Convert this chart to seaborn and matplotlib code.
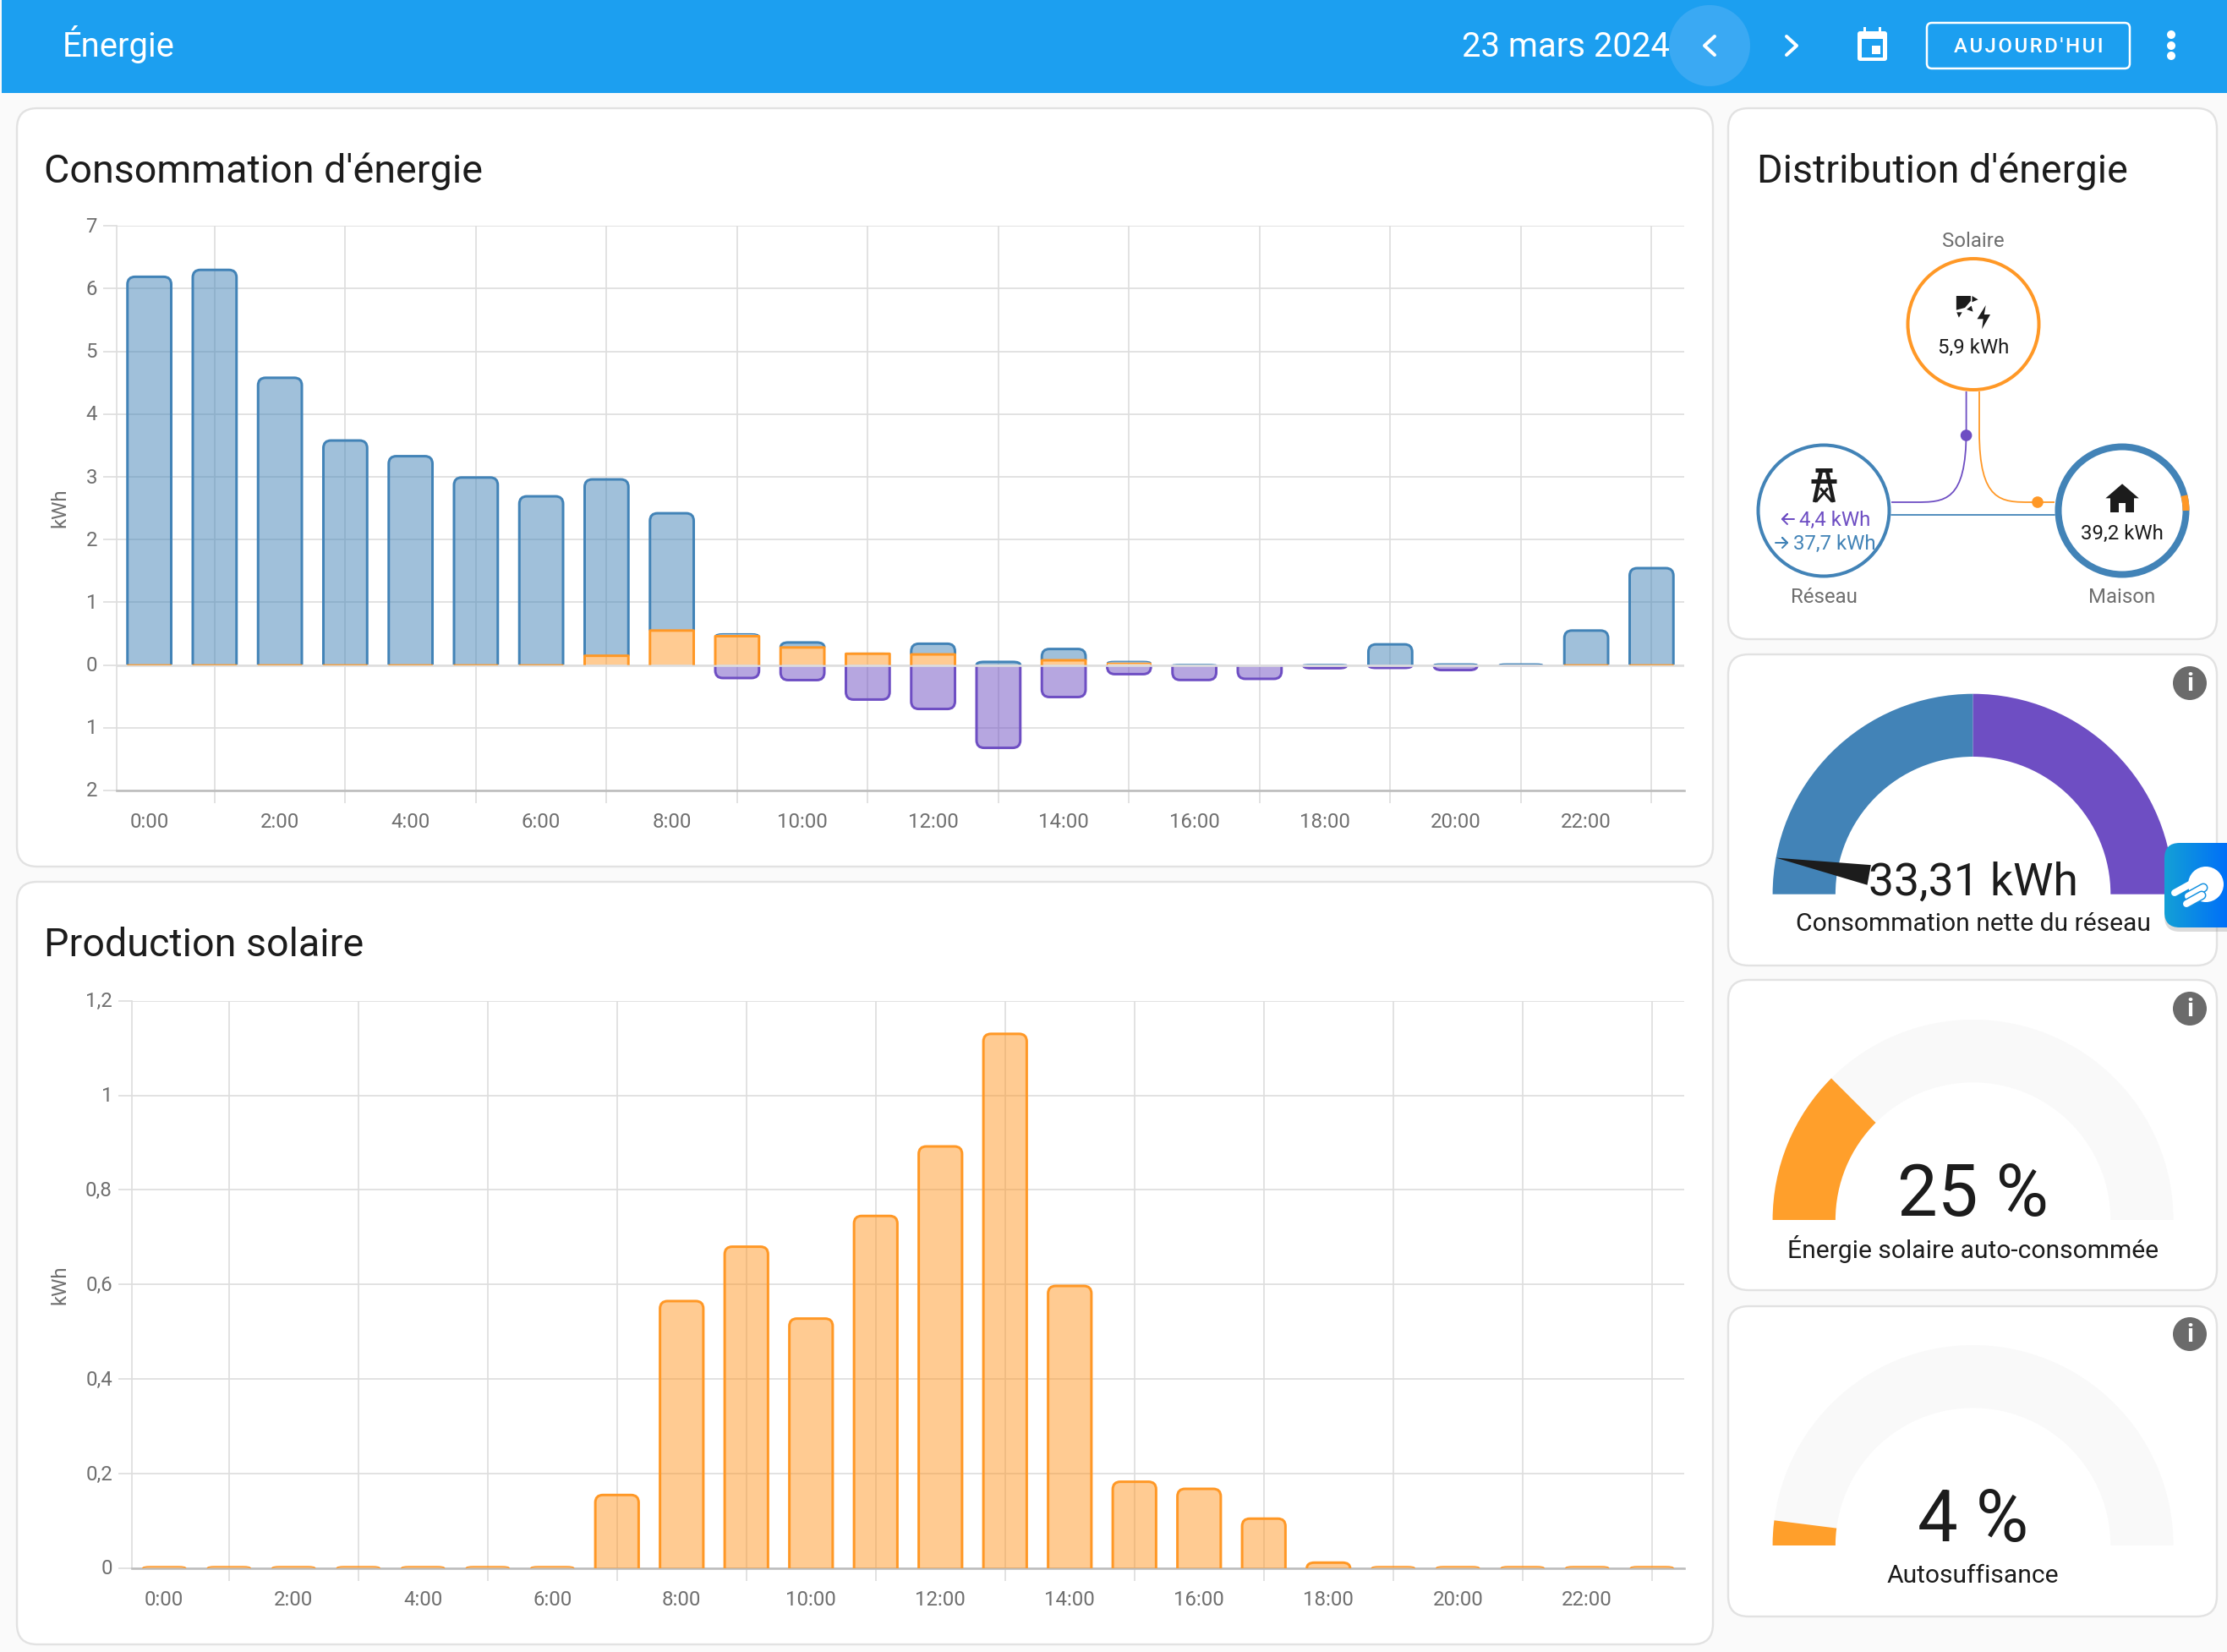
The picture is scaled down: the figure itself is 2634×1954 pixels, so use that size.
"""Home Assistant energy dashboard redrawn with seaborn bars and matplotlib patches."""

import numpy as np
import pandas as pd
import matplotlib
matplotlib.use("Agg")
import matplotlib.pyplot as plt
from matplotlib.patches import Circle, FancyBboxPatch, PathPatch, Polygon, Rectangle, Wedge, Arc
from matplotlib.path import Path
from matplotlib.transforms import ScaledTranslation
import seaborn as sns

# ── Data ──────────────────────────────────────────────────────────────────────
hours = [f"{h}:00" for h in range(24)]

# consumption chart, kWh per hour
solar_used = [0.005, 0.005, 0.005, 0.005, 0.005, 0.005, 0.005, 0.148, 0.55, 0.46, 0.28, 0.18,
              0.17, 0.0, 0.076, 0.03, 0.0, 0.0, 0.0, 0.0, 0.0, 0.0, 0.005, 0.005]
grid_used = [6.185, 6.295, 4.575, 3.575, 3.325, 2.985, 2.685, 2.812, 1.87, 0.04, 0.08, 0.01,
             0.17, 0.05, 0.18, 0.03, 0.01, 0.0, 0.01, 0.33, 0.02, 0.02, 0.545, 1.54]
grid_returned = [0.0, 0.0, 0.0, 0.0, 0.0, 0.0, 0.0, 0.0, 0.0, 0.207, 0.24, 0.55,
                 0.70, 1.32, 0.51, 0.145, 0.238, 0.22, 0.05, 0.045, 0.08, 0.015, 0.01, 0.0]

# solar production chart, kWh per hour
solar_prod = [0.004, 0.004, 0.004, 0.004, 0.004, 0.004, 0.004, 0.155, 0.565, 0.68, 0.528, 0.745,
              0.892, 1.13, 0.597, 0.183, 0.168, 0.105, 0.012, 0.004, 0.004, 0.004, 0.004, 0.004]

cons_ticks = [-2, -1, 0, 1, 2, 3, 4, 5, 6, 7]
cons_tick_labels = ["2", "1", "0", "1", "2", "3", "4", "5", "6", "7"]
prod_ticks = [0, 0.2, 0.4, 0.6, 0.8, 1.0, 1.2]
prod_tick_labels = ["0", "0,2", "0,4", "0,6", "0,8", "1", "1,2"]

net_grid_kwh = 33.31
net_grid_range = 37.7
self_consumed_pct = 25
self_sufficiency_pct = 4
home_solar_share = 0.038

# ── Theme ─────────────────────────────────────────────────────────────────────
W, H = 2634, 1954
BLUE = "#4283b7"
ORANGE = "#ff9826"
GAUGE_ORANGE = "#ff9f2b"
PURPLE = "#6e4ec3"
HEADER = "#1c9ff0"
BG = "#fafafa"
CARD_EDGE = "#e2e2e2"
GRID = "#dedede"
AXIS = "#bdbdbd"
MUTED = "#6f6f6f"
INK = "#1c1c1c"
TRACK = "#f9f9f9"
TITLE_PX = 46.7
TICK_PX = 24

sns.set_theme(style="white")
plt.rcParams["font.family"] = ["Roboto", "DejaVu Sans"]

fig = plt.figure(figsize=(W / 100, H / 100), dpi=100, facecolor=BG)

bg = fig.add_axes([0, 0, 1, 1], zorder=0)
bg.set_xlim(0, W)
bg.set_ylim(H, 0)
bg.axis("off")


def px(v):
    """Pixels to points at this figure's dpi."""
    return v * 0.72


# ── Dashboard furniture ───────────────────────────────────────────────────────
def card(x0, y0, x1, y1, r=24):
    bg.add_patch(FancyBboxPatch((x0 + r, y0 + r), x1 - x0 - 2 * r, y1 - y0 - 2 * r,
                                boxstyle=f"round,pad={r},rounding_size={r}",
                                fc="white", ec=CARD_EDGE, lw=px(2.4)))


def info_icon(cx, cy):
    bg.add_patch(Circle((cx, cy), 20, fc="#6b6b6b", ec="none"))
    bg.text(cx, cy + 1, "i", color="white", fontsize=px(30), fontweight="bold",
            ha="center", va="center")


bg.add_patch(Rectangle((2, 0), W, 110, fc=HEADER, ec="none"))
bg.text(74, 67, "Énergie", color="white", fontsize=px(40), ha="left", va="baseline")
bg.text(1975, 67, "23 mars 2024", color="white", fontsize=px(40), ha="right", va="baseline")
bg.add_patch(Circle((2022, 54), 48, fc="#3aa9f3", ec="none"))
bg.plot([2028, 2016, 2028], [43, 54, 65], color="white", lw=px(4), solid_capstyle="round")
bg.plot([2113, 2125, 2113], [43, 54, 65], color="white", lw=px(4), solid_capstyle="round")
# calendar icon
bg.add_patch(FancyBboxPatch((2198, 38), 33, 33, boxstyle="round,pad=1,rounding_size=3",
                            fc="white", ec="none"))
bg.add_patch(Rectangle((2202, 46), 25, 22, fc=HEADER, ec="none"))
bg.add_patch(Rectangle((2214, 54), 10, 10, fc="white", ec="none"))
bg.add_patch(Rectangle((2204, 32), 3, 8, fc="white", ec="none"))
bg.add_patch(Rectangle((2222, 32), 3, 8, fc="white", ec="none"))
# today button
bg.add_patch(FancyBboxPatch((2285, 33), 228, 42, boxstyle="round,pad=6,rounding_size=6",
                            fc="none", ec="white", lw=px(2.5)))
bg.text(2399, 62, "\u200a".join("AUJOURD'HUI"), color="white", fontsize=px(24), fontweight="medium",
        ha="center", va="baseline")
for dot_y in [41, 54, 66]:
    bg.add_patch(Circle((2568, dot_y), 5, fc="white", ec="none"))

card(20, 128, 2026, 1025)
card(20, 1043, 2026, 1945)
card(2044, 128, 2622, 756)
card(2044, 774, 2622, 1142)
card(2044, 1159, 2622, 1526)
card(2044, 1545, 2622, 1912)

bg.text(52, 216, "Consommation d'énergie", color=INK, fontsize=px(TITLE_PX), va="baseline")
bg.text(52, 1131, "Production solaire", color=INK, fontsize=px(TITLE_PX), va="baseline")
bg.text(2078, 216, "Distribution d'énergie", color=INK, fontsize=px(TITLE_PX), va="baseline")


# ── Bar charts ────────────────────────────────────────────────────────────────
def rounded_path(x0, x1, base, tip, rx, ry):
    """Open outline of a bar, with the two corners at its tip rounded."""
    sign = 1 if tip > base else -1
    ry = min(ry, abs(tip - base))
    verts = [(x0, base), (x0, tip - sign * ry), (x0, tip), (x0 + rx, tip),
             (x1 - rx, tip), (x1, tip), (x1, tip - sign * ry), (x1, base)]
    codes = [Path.MOVETO, Path.LINETO, Path.CURVE3, Path.CURVE3,
             Path.LINETO, Path.CURVE3, Path.CURVE3, Path.LINETO]
    return Path(verts, codes)


def stacked(ax, values, bottoms, color, ppu, slot, rounded=True, top=4):
    """Draw one series through seaborn, then restyle its rectangles as dashboard bars."""
    df = pd.DataFrame({"hour": hours, "kwh": values})
    sns.barplot(data=df, x="hour", y="kwh", order=hours, bottom=bottoms, ax=ax, color=color,
                saturation=1, width=0.67, zorder=3)
    for bar, val, base in zip(ax.containers[-1], values, bottoms):
        bar.set_visible(False)
        if val == 0:
            continue
        x0, x1 = bar.get_x(), bar.get_x() + bar.get_width()
        r = 9 if rounded else 0
        path = rounded_path(x0, x1, base, base + val, r / slot, r / ppu)
        ax.add_patch(PathPatch(path, fc=color, ec="none", alpha=0.5, zorder=3))
        lw = px(3) if abs(val) * ppu > 3 else px(1.2)
        ax.add_patch(PathPatch(path, fc="none", ec=color, lw=lw, zorder=top, clip_on=False,
                               capstyle="butt", joinstyle="round"))


def chart_axes(x0, y0, x1, y1):
    ax = fig.add_axes([x0 / W, 1 - y1 / H, (x1 - x0) / W, (y1 - y0) / H], zorder=2)
    ax.patch.set_alpha(0)
    return ax


def style_chart(ax, ylim, ticks, labels, ylabel_pos):
    ax.set_xlim(-0.5, 23.5)
    ax.set_ylim(*ylim)
    ax.set_xlabel("")
    ax.set_ylabel("")
    ax.set_xticks(range(0, 24, 2), hours[::2])
    ax.set_xticks(range(1, 24, 2), minor=True)
    ax.set_yticks(ticks, labels)
    ax.tick_params(axis="x", which="major", length=0, pad=px(26), labelsize=px(TICK_PX), labelcolor=MUTED)
    ax.tick_params(axis="x", which="minor", length=px(15), width=px(1.7), color=GRID, bottom=True)
    ax.tick_params(axis="y", length=px(16), width=px(1.7), color=GRID, left=True, pad=px(7),
                   labelsize=px(TICK_PX), labelcolor=MUTED)
    nudge = ScaledTranslation(0, 1.5 / 100, fig.dpi_scale_trans)
    for label in ax.get_yticklabels():
        label.set_transform(label.get_transform() + nudge)
    ax.grid(True, axis="y", which="major", color=GRID, lw=px(1.7), zorder=1)
    ax.grid(True, axis="x", which="minor", color=GRID, lw=px(1.7), zorder=1)
    ax.grid(False, axis="x", which="major")
    ax.set_axisbelow(True)
    for side in ["top", "right"]:
        ax.spines[side].set_visible(False)
    ax.spines["left"].set_color(GRID)
    ax.spines["left"].set_linewidth(px(1.7))
    ax.spines["bottom"].set_color(AXIS)
    ax.spines["bottom"].set_linewidth(px(2.6))
    bg.text(ylabel_pos[0], ylabel_pos[1], "kWh", color=MUTED, fontsize=px(TICK_PX), rotation=90,
            ha="center", va="center")


zeros = [0.0] * 24

ax_cons = chart_axes(138, 267.3, 1992, 935)
ppu_cons = 74.2
slot_cons = (1992 - 138) / 24
stacked(ax_cons, grid_used, solar_used, BLUE, ppu_cons, slot_cons)
stacked(ax_cons, [-v for v in grid_returned], zeros, PURPLE, ppu_cons, slot_cons)
ax_cons.axhline(0, color=GRID, lw=px(2.6), zorder=5)
stacked(ax_cons, solar_used, zeros, ORANGE, ppu_cons, slot_cons, rounded=False, top=6)
style_chart(ax_cons, (-2, 7), cons_ticks, cons_tick_labels, (71, 601))

ax_prod = chart_axes(156, 1183.7, 1992, 1855)
stacked(ax_prod, solar_prod, zeros, ORANGE, 559.4, (1992 - 156) / 24)
style_chart(ax_prod, (0, 1.2), prod_ticks, prod_tick_labels, (71, 1520))


# ── Energy distribution card ──────────────────────────────────────────────────
SOLAR_C = (2334, 383.5)
GRID_C = (2157, 604)
HOME_C = (2510, 604)
NODE_R = 77.5


def zoomed(xz, yz):
    """Coordinates measured on the distribution card crop, in figure pixels."""
    return 2040 + xz / 2.64, 250 + yz / 3


bg.add_patch(Circle(SOLAR_C, NODE_R, fc="white", ec=ORANGE, lw=px(4)))
bg.add_patch(Circle(GRID_C, NODE_R, fc="white", ec=BLUE, lw=px(4)))
bg.add_patch(Circle(HOME_C, NODE_R - 2, fc="white", ec=BLUE, lw=px(8)))
home_arc = home_solar_share * 360
bg.add_patch(Arc(HOME_C, 2 * (NODE_R - 2), 2 * (NODE_R - 2), theta1=-home_arc, theta2=0,
                 color=ORANGE, lw=px(8), capstyle="butt"))

flow_left = Path([(2325.6, 463), (2325.6, 510), (2325.6, 594), (2300, 594), (2265, 594), (2237, 594)],
                 [Path.MOVETO, Path.LINETO, Path.CURVE4, Path.CURVE4, Path.CURVE4, Path.LINETO])
flow_right = Path([(2341, 463), (2341, 510), (2341, 594), (2367, 594), (2402, 594), (2430, 594)],
                  [Path.MOVETO, Path.LINETO, Path.CURVE4, Path.CURVE4, Path.CURVE4, Path.LINETO])
bg.add_patch(PathPatch(flow_left, fc="none", ec=PURPLE, lw=px(1.8)))
bg.add_patch(PathPatch(flow_right, fc="none", ec=ORANGE, lw=px(1.8)))
bg.plot([2237, 2430], [609.3, 609.3], color=BLUE, lw=px(1.8))
bg.add_patch(Circle((2325.6, 515), 6.8, fc=PURPLE, ec="none"))
bg.add_patch(Circle((2410, 594), 6.8, fc=ORANGE, ec="none"))

for label, x, y in [("Solaire", 2334, 292), ("Réseau", 2157, 713), ("Maison", 2510, 713)]:
    bg.text(x, y, label, color=MUTED, fontsize=px(24), ha="center", va="baseline")
bg.text(2334, 418, "5,9 kWh", color=INK, fontsize=px(24), ha="center", va="baseline")
bg.text(2510, 638, "39,2 kWh", color=INK, fontsize=px(24), ha="center", va="baseline")
bg.text(2128, 622, "4,4 kWh", color=PURPLE, fontsize=px(24), ha="left", va="baseline")
bg.text(2121, 650, "37,7 kWh", color=BLUE, fontsize=px(24), ha="left", va="baseline")
# small arrows beside the grid figures
bg.plot([2122, 2108, 2114, 2108, 2114], [614, 614, 608, 614, 620], color=PURPLE, lw=px(2))
bg.plot([2100, 2114, 2108, 2114, 2108], [642, 642, 636, 642, 648], color=BLUE, lw=px(2))

# solar icon
sun = [(723, 300), (768, 300), (768, 318), (750, 342), (723, 350)]
bolt = [(815, 333), (788, 382), (807, 382), (803, 418), (829, 366), (810, 366)]
for shape in [sun, bolt, [(772, 300), (791, 313), (772, 322)], [(755, 348), (775, 356), (770, 335)],
              [(724, 358), (741, 358), (731, 377)]]:
    bg.add_patch(Polygon([zoomed(*p) for p in shape], fc=INK, ec="none"))
# pylon icon
for seg, width in [([(282, 918), (336, 918)], 5), ([(300, 925), (280, 1032)], 4.5), ([(320, 925), (340, 1032)], 4.5),
                   ([(270, 958), (348, 958)], 5), ([(298, 982), (335, 1030)], 3), ([(322, 982), (285, 1030)], 3)]:
    xs, ys = zip(*[zoomed(*p) for p in seg])
    bg.plot(xs, ys, color=INK, lw=px(width), solid_capstyle="butt")
# home icon
bg.add_patch(Polygon([zoomed(*p) for p in [(1241, 967), (1293, 1018), (1189, 1018)]], fc=INK, ec="none"))
bg.add_patch(Polygon([zoomed(*p) for p in [(1205, 1015), (1278, 1015), (1278, 1068), (1252, 1068),
                                           (1252, 1035), (1230, 1035), (1230, 1068), (1205, 1068)]],
                     fc=INK, ec="none"))


# ── Gauges ────────────────────────────────────────────────────────────────────
R_OUT, R_IN = 237.0, 162.7
CX = 2333.6


def gauge_band(cy, frac0, frac1, color):
    bg.add_patch(Wedge((CX, cy), R_OUT, 180 + 180 * frac0, 180 + 180 * frac1,
                       width=R_OUT - R_IN, fc=color, ec="none"))


# net grid consumption
GY1 = 1057.7
gauge_band(GY1, 0, 0.5, BLUE)
gauge_band(GY1, 0.5, 1, PURPLE)
needle = np.pi * (1 - (net_grid_range - net_grid_kwh) / (2 * net_grid_range))
nx, ny = np.cos(needle), -np.sin(needle)
bg.add_patch(Polygon([(CX + R_OUT * nx, GY1 + R_OUT * ny),
                      (CX + 125 * nx + 12 * ny, GY1 + 125 * ny - 12 * nx),
                      (CX + 125 * nx - 12 * ny, GY1 + 125 * ny + 12 * nx)], fc=INK, ec="none"))
bg.text(CX, 1059, f"{net_grid_kwh:.2f} kWh".replace(".", ","), color=INK, fontsize=px(53.5),
        ha="center", va="baseline")
bg.text(CX, 1101, "Consommation nette du réseau", color=INK, fontsize=px(30), ha="center", va="baseline")
info_icon(2590, 808)

# self-consumed solar
GY2 = 1443
gauge_band(GY2, 0, 1, TRACK)
gauge_band(GY2, 0, self_consumed_pct / 100, GAUGE_ORANGE)
bg.text(CX, 1438, f"{self_consumed_pct} %", color=INK, fontsize=px(85), ha="center", va="baseline")
bg.text(CX, 1488, "Énergie solaire auto-consommée", color=INK, fontsize=px(30), ha="center", va="baseline")
info_icon(2590, 1193)

# self sufficiency
GY3 = 1828
gauge_band(GY3, 0, 1, TRACK)
gauge_band(GY3, 0, self_sufficiency_pct / 100, GAUGE_ORANGE)
bg.text(CX, 1823, f"{self_sufficiency_pct} %", color=INK, fontsize=px(85), ha="center", va="baseline")
bg.text(CX, 1872, "Autosuffisance", color=INK, fontsize=px(30), ha="center", va="baseline")
info_icon(2590, 1578)

# floating helper button
bx0, by0, bw, bh, br = 2560, 997, 100, 100, 18
bg.add_patch(FancyBboxPatch((bx0 + br, by0 + br + 5), bw - 2 * br, bh - 2 * br,
                            boxstyle=f"round,pad={br},rounding_size={br}", fc="#9a9a9a", ec="none", alpha=0.35))
btn = FancyBboxPatch((bx0 + br, by0 + br), bw - 2 * br, bh - 2 * br,
                     boxstyle=f"round,pad={br},rounding_size={br}", fc="none", ec="none")
bg.add_patch(btn)
cmap = matplotlib.colors.LinearSegmentedColormap.from_list("btn", ["#14a0d6", "#0070f8"])
img = bg.imshow(np.linspace(0, 1, 64)[None, :], cmap=cmap, extent=(bx0, W, by0 + bh, by0), aspect="auto", zorder=2)
img.set_clip_path(btn)
bg.set_xlim(0, W)
bg.set_ylim(H, 0)
bg.add_patch(Circle((2609, 1046), 21, fc="white", ec="none", zorder=3))
for (x0, y0), (x1, y1), edge in [((2572, 1056), (2590, 1046), False),
                                 ((2588, 1060), (2606, 1050), True),
                                 ((2586, 1069), (2604, 1059), True)]:
    if edge:
        bg.plot([x0, x1], [y0, y1], color="#1290e0", lw=px(11), solid_capstyle="round", zorder=4)
    bg.plot([x0, x1], [y0, y1], color="white", lw=px(8), solid_capstyle="round", zorder=4)

fig.savefig("out.png", dpi=100, facecolor=BG)
